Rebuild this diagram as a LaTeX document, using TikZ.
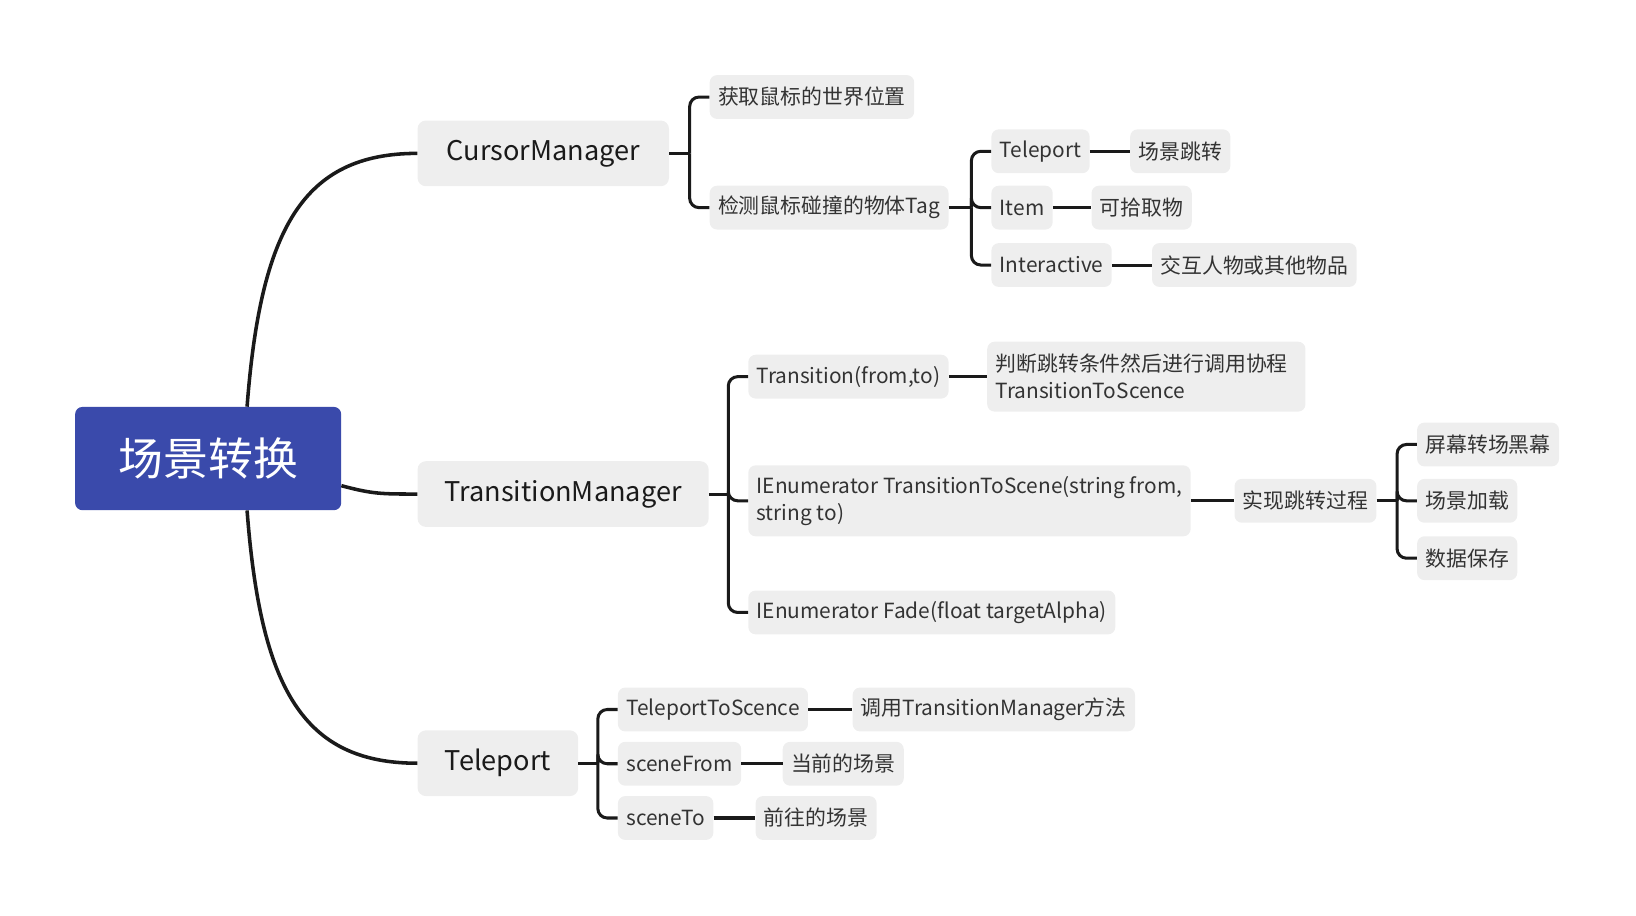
\documentclass[tikz,border=0pt]{standalone}
\usepackage{fontspec}
\setmainfont{Noto Sans CJK SC}
\usetikzlibrary{calc}
\definecolor{rootblue}{HTML}{3A4AAB}
\definecolor{boxgray}{HTML}{EEEEEE}
\definecolor{ink}{HTML}{1A1A1A}
\definecolor{txt}{HTML}{333333}
\begin{document}
\begin{tikzpicture}[x=1pt,y=-1pt,
 rootbox/.style={fill=rootblue, rounded corners=7pt, minimum width=255pt, minimum height=99pt, text=white, font=\fontsize{43}{50}\selectfont, inner sep=0pt},
 mainbox/.style={fill=boxgray, rounded corners=8pt, minimum height=63pt, inner xsep=0pt, anchor=west, text=ink, font=\fontsize{26}{30}\selectfont},
 subbox/.style={fill=boxgray, rounded corners=7pt, minimum height=42pt, inner xsep=8pt, inner ysep=8pt, anchor=west, text=txt, font=\fontsize{20}{26}\selectfont, align=left},
 trunk/.style={draw=ink, line width=3.4pt},
 branch/.style={draw=ink, line width=2.9pt, rounded corners=9pt}
]
\useasboundingbox (0,0) rectangle (1568,877);

% root
\node[rootbox] (root) at (199.5,439.5) {场景转换};

% main branches
\node[mainbox, minimum width=241pt] (cm) at (400,147) {CursorManager};
\node[mainbox, minimum width=279pt] (tm) at (400,473.5) {TransitionManager};
\node[mainbox, minimum width=154pt] (tp) at (400,731.5) {Teleport};

% CursorManager children
\node[subbox] (c1) at (680,93) {获取鼠标的世界位置};
\node[subbox] (c2) at (680,199) {检测鼠标碰撞的物体Tag};
\node[subbox] (d1) at (950,145) {Teleport};
\node[subbox] (d1l) at (1083,145) {场景跳转};
\node[subbox] (d2) at (950,199) {Item};
\node[subbox] (d2l) at (1046,199) {可拾取物};
\node[subbox] (d3) at (950,254) {Interactive};
\node[subbox] (d3l) at (1104,254) {交互人物或其他物品};

% TransitionManager children
\node[subbox] (e1) at (717,361) {Transition(from,to)};
\node[subbox, text width=289pt, minimum height=67pt] (e1l) at (946,361) {判断跳转条件然后进行调用协程\\TransitionToScence};
\node[subbox, minimum height=68pt] (e2) at (717,480) {IEnumerator TransitionToScene(string from,\\string to)};
\node[subbox] (e2l) at (1183,480) {实现跳转过程};
\node[subbox] (f1) at (1358,426) {屏幕转场黑幕};
\node[subbox] (f2) at (1358,480) {场景加载};
\node[subbox] (f3) at (1358,535) {数据保存};
\node[subbox] (e3) at (717,587) {IEnumerator Fade(float targetAlpha)};

% Teleport children
\node[subbox] (g1) at (592,680) {TeleportToScence};
\node[subbox] (g1l) at (817,680) {调用TransitionManager方法};
\node[subbox] (g2) at (592,732) {sceneFrom};
\node[subbox] (g2l) at (750,732) {当前的场景};
\node[subbox] (g3) at (592,784) {sceneTo};
\node[subbox] (g3l) at (724,784) {前往的场景};

% trunk curves
\coordinate (r1) at ($(root.north west)+(165,0)$);
\coordinate (r2) at ($(root.east)+(0,26)$);
\coordinate (r3) at ($(root.south west)+(165,0)$);
\draw[trunk] (r1) .. controls +(13,-170) and +(-110,0) .. (cm.west);
\draw[trunk] (r2) .. controls +(30,8) and +(-35,0) .. (tm.west);
\draw[trunk] (r3) .. controls +(13,170) and +(-110,0) .. (tp.west);

% junctions
\coordinate (j1) at ($(cm.east -| c1.west)+(-19,0)$);
\draw[branch] (cm.east) -- (j1);
\draw[branch] (j1) |- (c1.west);
\draw[branch] (j1) |- (c2.west);

\coordinate (j2) at ($(c2.east -| d1.west)+(-19,0)$);
\draw[branch] (c2.east) -- (j2);
\draw[branch] (j2) |- (d1.west);
\draw[branch] (j2) |- (d2.west);
\draw[branch] (j2) |- (d3.west);
\draw[branch] (d1.east) -- (d1l.west);
\draw[branch] (d2.east) -- (d2l.west);
\draw[branch] (d3.east) -- (d3l.west);

\coordinate (j3) at ($(tm.east -| e1.west)+(-19,0)$);
\draw[branch] (tm.east) -- (j3);
\draw[branch] (j3) |- (e1.west);
\draw[branch] (j3) |- (e2.west);
\draw[branch] (j3) |- (e3.west);
\draw[branch] (e1.east) -- (e1l.west);
\draw[branch] (e2.east) -- (e2l.west);

\coordinate (j4) at ($(e2l.east -| f1.west)+(-19,0)$);
\draw[branch] (e2l.east) -- (j4);
\draw[branch] (j4) |- (f1.west);
\draw[branch] (j4) |- (f2.west);
\draw[branch] (j4) |- (f3.west);

\coordinate (j5) at ($(tp.east -| g1.west)+(-19,0)$);
\draw[branch] (tp.east) -- (j5);
\draw[branch] (j5) |- (g1.west);
\draw[branch] (j5) |- (g2.west);
\draw[branch] (j5) |- (g3.west);
\draw[branch] (g1.east) -- (g1l.west);
\draw[branch] (g2.east) -- (g2l.west);
\draw[branch] (g3.east) -- (g3l.west);
\end{tikzpicture}
\end{document}
